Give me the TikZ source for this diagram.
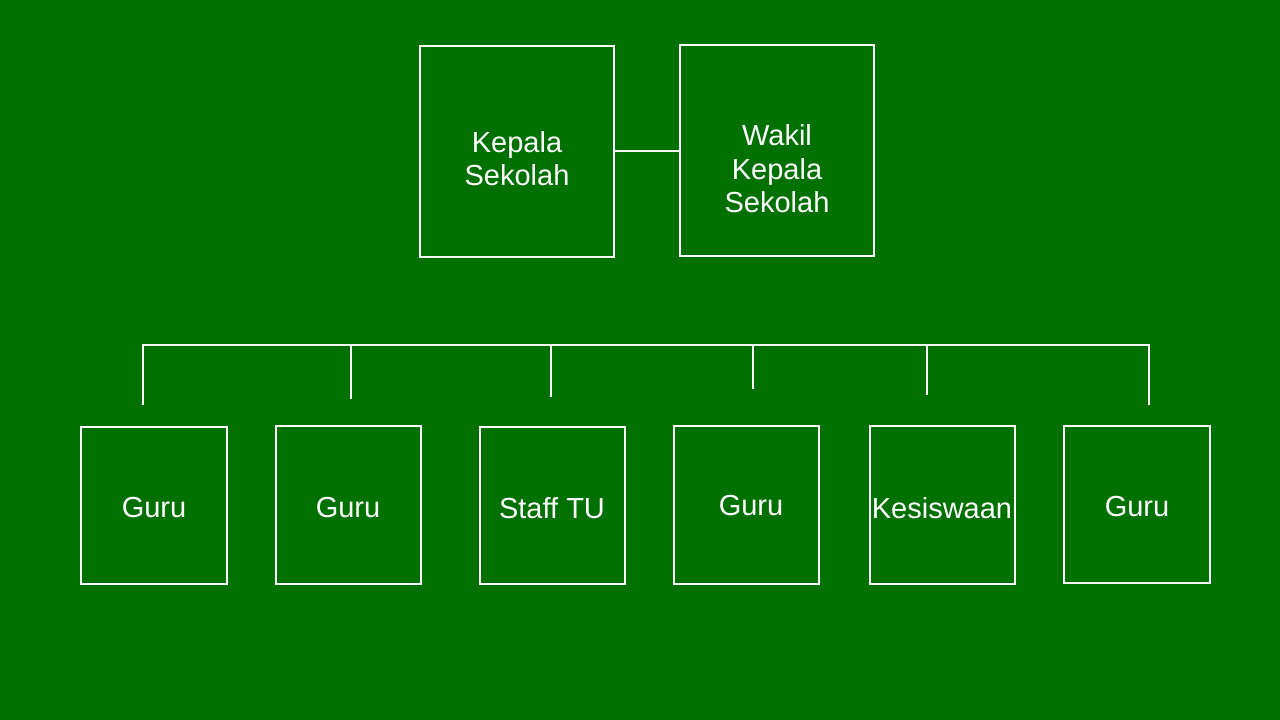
\documentclass[tikz,border=0pt]{standalone}
\usepackage{fontspec}
\setmainfont{Liberation Sans}
\definecolor{bg}{HTML}{007000}
\begin{document}
\begin{tikzpicture}[x=1pt,y=-1pt,
  box/.style={draw=white,line width=2pt,rectangle,inner sep=0pt},
  txt/.style={text=white,align=center,inner sep=0pt,font=\fontsize{29}{33.5}\selectfont},
  conn/.style={draw=white,line width=2pt}]
\fill[bg] (0,0) rectangle (1280,720);
\useasboundingbox (0,0) rectangle (1280,720);
% top boxes
\node[box,minimum width=194pt,minimum height=211pt] (kepala) at (517,151.5) {};
\node[box,minimum width=194pt,minimum height=211pt] (wakil) at (777,150.5) {};
\node[txt] (tkepala) at (517,158.5) {Kepala\\Sekolah};
\node[txt] (twakil) at (777,169) {Wakil\\Kepala\\Sekolah};
\draw[conn] (kepala.east |- 0,151) -- (wakil.west |- 0,151);
% bottom boxes
\node[box,minimum width=146pt,minimum height=157pt] (g1) at (154,505.5) {};
\node[box,minimum width=145pt,minimum height=158pt] (g2) at (348.5,505) {};
\node[box,minimum width=145pt,minimum height=157pt] (st) at (552.5,505.5) {};
\node[box,minimum width=145pt,minimum height=158pt] (g4) at (746.5,505) {};
\node[box,minimum width=145pt,minimum height=158pt] (ks) at (942.5,505) {};
\node[box,minimum width=146pt,minimum height=157pt] (g6) at (1137,504.5) {};
\node[txt] at (154,508) {Guru};
\node[txt] at (348,508) {Guru};
\node[txt] at (552,508) {Staff TU};
\node[txt] at (751,506) {Guru};
\node[txt] at (942,508) {Kesiswaan};
\node[txt] at (1137,507) {Guru};
% bracket
\coordinate (b1) at (143,405);
\coordinate (b2) at (351,399);
\coordinate (b3) at (551,397);
\coordinate (b4) at (753,389);
\coordinate (b5) at (927,395);
\coordinate (b6) at (1149,405);
\draw[conn] (b1) -- (b1 |- 0,345) -- (b6 |- 0,345) -- (b6);
\draw[conn] (b2 |- 0,345) -- (b2);
\draw[conn] (b3 |- 0,345) -- (b3);
\draw[conn] (b4 |- 0,345) -- (b4);
\draw[conn] (b5 |- 0,345) -- (b5);
\end{tikzpicture}
\end{document}
